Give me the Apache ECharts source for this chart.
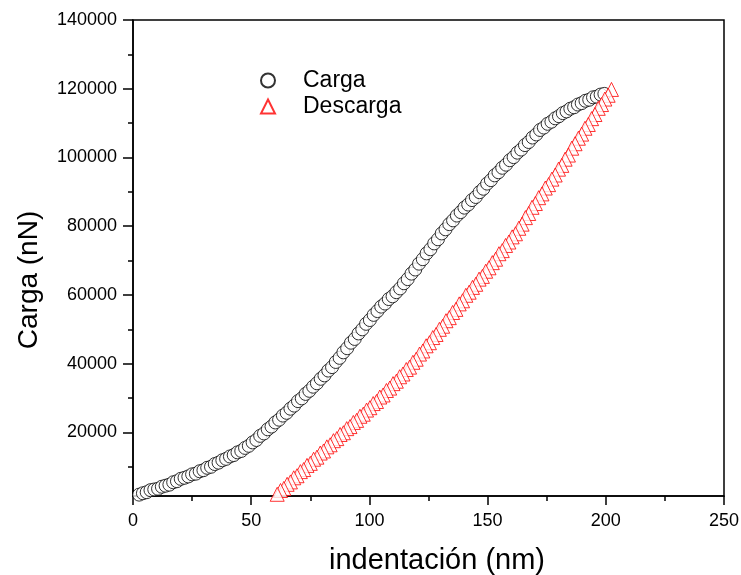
<!DOCTYPE html>
<html>
<head>
<meta charset="utf-8">
<script src="https://cdn.jsdelivr.net/npm/echarts@6/dist/echarts.min.js"></script>
<style>
  html, body { margin: 0; padding: 0; background: #fff; }
  #ech { width: 741px; height: 575px; }
</style>
</head>
<body>
<div id="ech"></div>
<script>
// curva de carga (circulos)
var cargaX = [1.0, 2.6, 4.2, 5.8, 7.4, 9.0, 10.6, 12.2, 13.8, 15.4, 17.0, 18.6, 20.2, 21.8, 23.4, 25.0, 26.6, 28.2, 29.8, 31.4,
    33.0, 34.6, 36.2, 37.8, 39.4, 41.0, 42.6, 44.2, 45.8, 47.4, 49.0, 50.6, 52.2, 53.8, 55.4, 57.0, 58.6, 60.2, 61.8, 63.4,
    65.0, 66.6, 68.2, 69.8, 71.4, 73.0, 74.6, 76.2, 77.8, 79.4, 81.0, 82.6, 84.2, 85.8, 87.4, 89.0, 90.6, 92.2, 93.8, 95.4,
    97.0, 98.6, 100.2, 101.8, 103.4, 105.0, 106.6, 108.2, 109.8, 111.4, 113.0, 114.6, 116.2, 117.8, 119.4, 121.0, 122.6, 124.2, 125.8, 127.4,
    129.0, 130.6, 132.2, 133.8, 135.4, 137.0, 138.6, 140.2, 141.8, 143.4, 145.0, 146.6, 148.2, 149.8, 151.4, 153.0, 154.6, 156.2, 157.8, 159.4,
    161.0, 162.6, 164.2, 165.8, 167.4, 169.0, 170.6, 172.2, 173.8, 175.4, 177.0, 178.6, 180.2, 181.8, 183.4, 185.0, 186.6, 188.2, 189.8, 191.4,
    193.0, 194.6, 196.2, 197.8, 199.4];
var cargaY = [1200, 1900, 2300, 2600, 3200, 3400, 3600, 4200, 4500, 4800, 5500, 5800, 6500, 6800, 7200, 7800, 8000, 8700, 9000, 9700,
    10000, 10800, 11200, 11900, 12300, 13000, 13400, 14200, 14600, 15500, 16100, 17100, 17800, 19000, 19700, 20900, 21700, 22900, 23700, 24900,
    25700, 26900, 27800, 29100, 29900, 31200, 32100, 33300, 34300, 35600, 36600, 38000, 39000, 40500, 41700, 43300, 44500, 46100, 47200, 48800,
    50000, 51600, 52700, 54200, 55300, 56600, 57500, 58800, 59600, 60800, 61900, 63400, 64600, 66200, 67400, 69100, 70400, 72100, 73300, 75000,
    76200, 77900, 79100, 80600, 81700, 83100, 84100, 85400, 86300, 87600, 88500, 89900, 90900, 92400, 93400, 94800, 95700, 97000, 97900, 99200,
    100100, 101400, 102300, 103600, 104500, 105800, 106700, 108000, 108700, 109800, 110400, 111400, 112000, 112900, 113400, 114200, 114600, 115400, 115800, 116500,
    116800, 117500, 117700, 118300, 118500];

// curva de descarga (triangulos)
var descargaX = [202.4, 201.0, 199.6, 198.2, 196.8, 195.4, 194.0, 192.6, 191.2, 189.8, 188.4, 187.0, 185.6, 184.2, 182.8, 181.4, 180.0, 178.6, 177.2, 175.8,
    174.4, 173.0, 171.6, 170.2, 168.8, 167.4, 166.0, 164.6, 163.2, 161.8, 160.4, 159.0, 157.6, 156.2, 154.8, 153.4, 152.0, 150.6, 149.2, 147.8,
    146.4, 145.0, 143.6, 142.2, 140.8, 139.4, 138.0, 136.6, 135.2, 133.8, 132.4, 131.0, 129.6, 128.2, 126.8, 125.4, 124.0, 122.6, 121.2, 119.8,
    118.4, 117.0, 115.6, 114.2, 112.8, 111.4, 110.0, 108.6, 107.2, 105.8, 104.4, 103.0, 101.6, 100.2, 98.8, 97.4, 96.0, 94.6, 93.2, 91.8,
    90.4, 89.0, 87.6, 86.2, 84.8, 83.4, 82.0, 80.6, 79.2, 77.8, 76.4, 75.0, 73.6, 72.2, 70.8, 69.4, 68.0, 66.6, 65.2, 63.8,
    62.4, 61.0, 59.6, 58.2, 56.0, 52.5, 49.0, 45.5, 42.0, 38.5, 35.0, 31.5, 28.0, 24.5, 21.0, 17.5, 14.0, 10.5, 7.0, 3.5, 0.0];
var descargaY = [119800, 118100, 117000, 115400, 114300, 112500, 111300, 109600, 108500, 106800, 105600, 104000, 102700, 100700, 99500, 97700, 96600, 94900, 93700, 92100,
    91100, 89400, 88300, 86600, 85500, 83700, 82500, 80600, 79400, 77800, 76900, 75400, 74400, 72900, 72000, 70400, 69400, 67900, 66900, 65400,
    64600, 63100, 62200, 60800, 59900, 58300, 57400, 55800, 54900, 53400, 52500, 50900, 50000, 48500, 47600, 46100, 45200, 43700, 42800, 41300,
    40400, 39000, 38300, 37000, 36200, 34900, 34200, 32900, 32200, 30900, 30300, 29000, 28400, 27200, 26500, 25300, 24700, 23500, 22900, 21700,
    21100, 19900, 19400, 18200, 17600, 16400, 15800, 14600, 14000, 12800, 12200, 11000, 10400, 9200, 8600, 7400, 6800, 5600, 4900, 3700,
    3100, 2000, 1300, 400, 0, 0, 0, 0, 0, 0, 0, 0, 0, 0, 0, 0, 0, 0, 0, 0, 0];

var yLabels = [20000, 40000, 60000, 80000, 100000, 120000, 140000];
var yMinor = [10000, 30000, 50000, 70000, 90000, 110000, 130000];

function pairs(xs, ys) {
    var out = [];
    for (var i = 0; i < xs.length; i++) out.push([xs[i], ys[i]]);
    return out;
}

var font = 'Liberation Sans, Arial, sans-serif';
var myChart = echarts.init(document.getElementById('ech'));
var option = {
    animation: false,
    backgroundColor: '#fff',
    textStyle: {fontFamily: font},
    grid: {
        left: 133, right: 17, top: 20, bottom: 79,
        outerBoundsMode: 'none',
        containLabel: false,
        show: true, borderColor: '#000', borderWidth: 1.5
    },
    legend: {
        orient: 'vertical',
        left: 255, top: 64,
        itemWidth: 14, itemHeight: 14, itemGap: 3,
        textStyle: {fontSize: 23, color: '#000', fontFamily: font, padding: [0, 0, 0, 23]},
        data: ['Carga', 'Descarga']
    },
    xAxis: {
        type: 'value',
        min: 0, max: 250, interval: 50,
        name: 'indentación (nm)',
        nameLocation: 'middle',
        nameGap: 50,
        nameTextStyle: {fontSize: 29, color: '#000', fontFamily: font, padding: [0, 0, 0, 17]},
        axisLine: {lineStyle: {color: '#000', width: 1.5}},
        axisTick: {length: 9, lineStyle: {color: '#000', width: 1.5}},
        minorTick: {show: true, splitNumber: 2, length: 5, lineStyle: {color: '#000', width: 1.5}},
        splitLine: {show: false},
        axisLabel: {fontSize: 18, color: '#000', margin: 16}
    },
    yAxis: [{
        type: 'value',
        min: 1500, max: 140000,
        name: 'Carga (nN)',
        nameLocation: 'middle',
        nameGap: 90,
        nameTextStyle: {fontSize: 28, color: '#000', fontFamily: font, padding: [0, 44, 0, 0]},
        axisLine: {lineStyle: {color: '#000', width: 1.5}},
        axisTick: {length: 10, customValues: yLabels, lineStyle: {color: '#000', width: 1.5}},
        splitLine: {show: false},
        axisLabel: {
            fontSize: 18, color: '#000', margin: 16, customValues: yLabels,
            formatter: function (v) { return String(v); }
        }
    }, {
        type: 'value',
        min: 1500, max: 140000,
        position: 'left',
        axisLine: {show: false},
        axisTick: {show: true, length: 5, customValues: yMinor, lineStyle: {color: '#000', width: 1.5}},
        axisLabel: {show: false},
        splitLine: {show: false}
    }],
    series: [
        {
            name: 'Carga',
            type: 'scatter',
            symbol: 'circle',
            symbolSize: 13,
            itemStyle: {color: '#fff', borderColor: '#000', borderWidth: 1},
            data: pairs(cargaX, cargaY)
        },
        {
            name: 'Descarga',
            type: 'scatter',
            symbol: 'triangle',
            symbolSize: 14,
            itemStyle: {color: '#fff', borderColor: '#ff0000', borderWidth: 1},
            data: pairs(descargaX, descargaY)
        }
    ]
};
myChart.setOption(option);
</script>
</body>
</html>
